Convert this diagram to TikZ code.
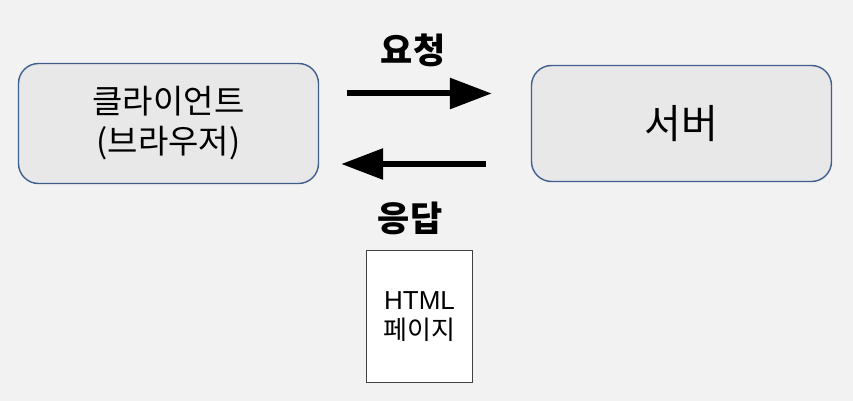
\documentclass[tikz,border=0pt]{standalone}
\usepackage{fontspec}
\setmainfont{Noto Sans CJK KR}
\newfontfamily\arialfont{Liberation Sans}
\usetikzlibrary{arrows.meta}
\definecolor{bg}{HTML}{F2F2F2}
\definecolor{boxfill}{HTML}{E8E8E8}
\definecolor{boxline}{HTML}{3F5F8F}
\definecolor{pageline}{HTML}{404040}

\begin{document}
\begin{tikzpicture}[x=1pt,y=-1pt,
	rbox/.style={draw=boxline,fill=boxfill,line width=1.4pt,rounded corners=20pt,minimum width=300pt,inner sep=0pt,align=center},
	arr/.style={line width=6pt,-{Triangle[length=42pt,width=30pt]}},
	lab/.style={font=\fontsize{35}{38}\selectfont\bfseries}]
	\fill[bg] (0,0) rectangle (853,401);
	\useasboundingbox (0,0) rectangle (853,401);
	\node[rbox,minimum height=120pt,font=\fontsize{33}{40}\selectfont] (client) at (168.5,123.5) {클라이언트\\(브라우저)};
	\node[rbox,minimum height=116pt,font=\fontsize{40}{44}\selectfont] (server) at (681.5,123.5) {서버};
	\draw[arr,shorten <=28pt,shorten >=39pt] ([yshift=30pt]client.east) -- ([yshift=30pt]client.east -| server.west);
	\draw[arr,shorten <=45pt,shorten >=22pt] ([yshift=-40.5pt]server.west) -- ([yshift=-40.5pt]server.west -| client.east);
	\node[lab] (req) at (413,50) {요청};
	\node[lab] (res) at (410,218) {응답};
	\node[draw=pageline,fill=white,line width=1.4pt,minimum width=106pt,minimum height=132pt,inner sep=0pt,align=center,font=\fontsize{26}{30}\selectfont] (page) at (419.5,316.5) {{\arialfont HTML}\\페이지};
\end{tikzpicture}
\end{document}
